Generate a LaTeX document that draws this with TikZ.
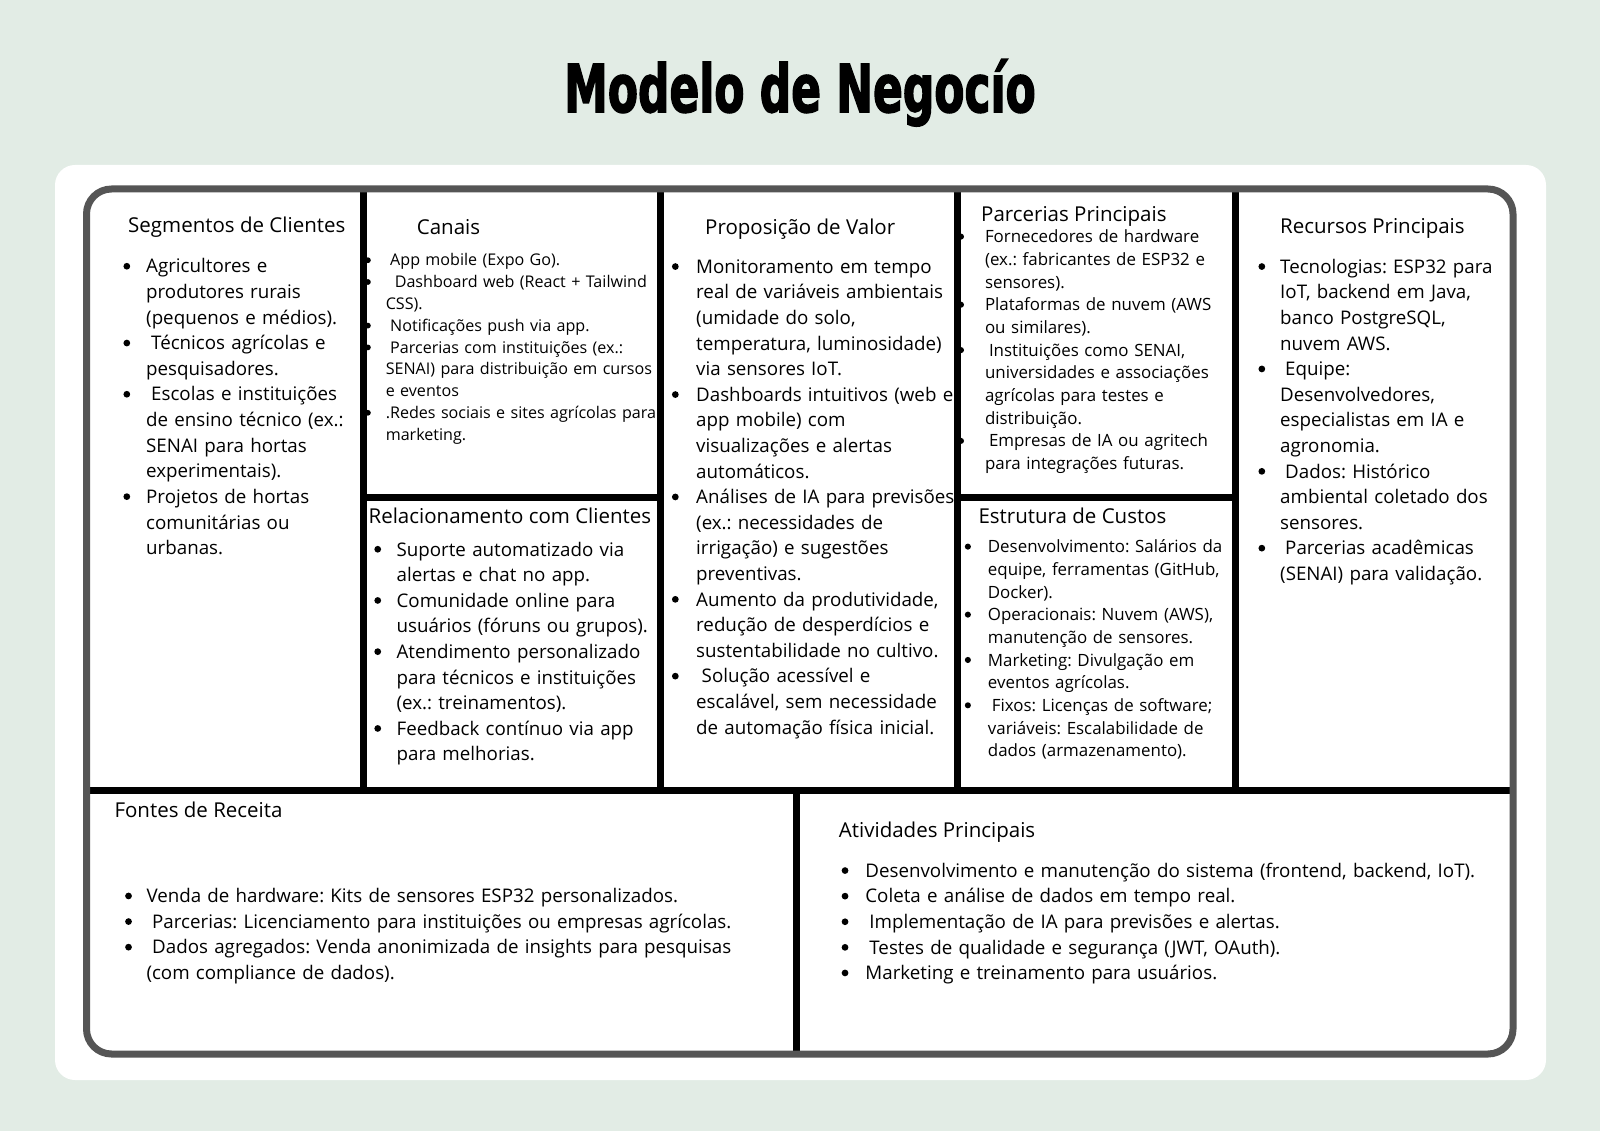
\documentclass[tikz,border=0pt]{standalone}
\usepackage{graphicx}
\usepackage{fontspec}
\setmainfont{Open Sans}
\newfontfamily\titlefont{DejaVu Sans Condensed}[BoldFeatures={FakeBold=2.5}]
\definecolor{bgmint}{HTML}{E2ECE5}
\definecolor{framegrey}{HTML}{555555}
\newcommand{\bul}[1]{\leavevmode\llap{\tikz[baseline=0pt]\fill (0pt,0.36em) circle (0.18em);\hspace{#1pt}}}
\frenchspacing
\begin{document}
\begin{tikzpicture}[x=1pt,y=-1pt,
  divider/.style={draw=black,line width=7pt},
  head/.style={anchor=base west,inner sep=0pt,font=\fontsize{20.5}{24}\selectfont},
  bigtxt/.style={anchor=base west,inner sep=0pt,align=left,text width=#1,font=\fontsize{18.75}{25.6}\selectfont},
  smalltxt/.style n args={3}{anchor=base west,inner sep=0pt,align=left,text width=#3,font=\fontsize{#1}{#2}\selectfont}]
\useasboundingbox (0,0) rectangle (1600,1131);
\fill[bgmint] (0,0) rectangle (1600,1131);
\fill[white,rounded corners=20pt] (55,165) rectangle (1546,1080);
\node (title) at (800,112) [anchor=base,inner sep=0pt] {\titlefont\bfseries\fontsize{66}{70}\selectfont\scalebox{0.74}[1]{Modelo de Negocío}};
% headers
\node (segH) at (128,233) [head] {Segmentos de Clientes};
\node (canH) at (416.7,234.3) [head] {Canais};
\node (propH) at (705,234.3) [head] {Proposição de Valor};
\node (parH) at (981,221.7) [head] {Parcerias Principais};
\node (recH) at (1280,233.3) [head] {Recursos Principais};
\node (relH) at (368.4,523.3) [head] {Relacionamento com Clientes};
\node (custH) at (978.3,523.3) [head] {Estrutura de Custos};
\node (fonH) at (114.3,817.7) [head] {Fontes de Receita};
\node (ativH) at (838.7,837.7) [head] {Atividades Principais};
% lists
\node (seg) at (146,273) [bigtxt=205pt] {\bul{16}Agricultores e\\
produtores rurais\\
(pequenos e médios).\\
\bul{16}\hspace*{5pt}Técnicos agrícolas e\\
pesquisadores.\\
\bul{16}\hspace*{5pt}Escolas e instituições\\
de ensino técnico (ex.:\\
SENAI para hortas\\
experimentais).\\
\bul{16}Projetos de hortas\\
comunitárias ou\\
urbanas.};
\node (can) at (385.6,266) [smalltxt={16.1}{21.8}{272pt}] {\bul{15}\hspace*{4.4pt}App mobile (Expo Go).\\
\bul{15}\hspace*{9pt}Dashboard web (React + Tailwind\\
CSS).\\
\bul{15}\hspace*{4.4pt}Notificações push via app.\\
\bul{15}\hspace*{4.4pt}Parcerias com instituições (ex.:\\
SENAI) para distribuição em cursos\\
e eventos\\
\bul{15}.Redes sociais e sites agrícolas para\\
marketing.};
\node (prop) at (696,273.3) [bigtxt=260pt] {\bul{17.5}Monitoramento em tempo\\
real de variáveis ambientais\\
(umidade do solo,\\
temperatura, luminosidade)\\
via sensores IoT.\\
\bul{17.5}Dashboards intuitivos (web e\\
app mobile) com\\
visualizações e alertas\\
automáticos.\\
\bul{17.5}Análises de IA para previsões\\
(ex.: necessidades de\\
irrigação) e sugestões\\
preventivas.\\
\bul{17.5}Aumento da produtividade,\\
redução de desperdícios e\\
sustentabilidade no cultivo.\\
\bul{17.5}\hspace*{5.5pt}Solução acessível e\\
escalável, sem necessidade\\
de automação física inicial.};
\node (par) at (984.8,242.7) [smalltxt={16.9}{22.7}{235pt}] {\bul{21}Fornecedores de hardware\\
(ex.: fabricantes de ESP32 e\\
sensores).\\
\bul{21}Plataformas de nuvem (AWS\\
ou similares).\\
\bul{21}\hspace*{4pt}Instituições como SENAI,\\
universidades e associações\\
agrícolas para testes e\\
distribuição.\\
\bul{21}\hspace*{4pt}Empresas de IA ou agritech\\
para integrações futuras.};
\node (rec) at (1280,273.3) [bigtxt=220pt] {\bul{15}Tecnologias: ESP32 para\\
IoT, backend em Java,\\
banco PostgreSQL,\\
nuvem AWS.\\
\bul{15}\hspace*{5pt}Equipe:\\
Desenvolvedores,\\
especialistas em IA e\\
agronomia.\\
\bul{15}\hspace*{5pt}Dados: Histórico\\
ambiental coletado dos\\
sensores.\\
\bul{15}\hspace*{5pt}Parcerias acadêmicas\\
(SENAI) para validação.};
\node (rel) at (396.4,556) [bigtxt=258pt] {\bul{15.5}Suporte automatizado via\\
alertas e chat no app.\\
\bul{15.5}Comunidade online para\\
usuários (fóruns ou grupos).\\
\bul{15.5}Atendimento personalizado\\
para técnicos e instituições\\
(ex.: treinamentos).\\
\bul{15.5}Feedback contínuo via app\\
para melhorias.};
\node (cust) at (987.7,552.7) [smalltxt={16.9}{22.67}{240pt}] {\bul{17}Desenvolvimento: Salários da\\
equipe, ferramentas (GitHub,\\
Docker).\\
\bul{17}Operacionais: Nuvem (AWS),\\
manutenção de sensores.\\
\bul{17}Marketing: Divulgação em\\
eventos agrícolas.\\
\bul{17}\hspace*{4pt}Fixos: Licenças de software;\\
variáveis: Escalabilidade de\\
dados (armazenamento).};
\node (fon) at (146.3,902.7) [bigtxt=600pt] {\bul{14.6}Venda de hardware: Kits de sensores ESP32 personalizados.\\
\bul{14.6}\hspace*{5.7pt}Parcerias: Licenciamento para instituições ou empresas agrícolas.\\
\bul{14.6}\hspace*{5.7pt}Dados agregados: Venda anonimizada de insights para pesquisas\\
(com compliance de dados).};
\node (ativ) at (865.2,877.3) [bigtxt=625pt] {\bul{17}Desenvolvimento e manutenção do sistema (frontend, backend, IoT).\\
\bul{17}Coleta e análise de dados em tempo real.\\
\bul{17}\hspace*{4pt}Implementação de IA para previsões e alertas.\\
\bul{17}\hspace*{4pt}Testes de qualidade e segurança (JWT, OAuth).\\
\bul{17}Marketing e treinamento para usuários.};
% grid
\draw[divider] (363,189) -- (363,790);
\draw[divider] (660,189) -- (660,790);
\draw[divider] (957,189) -- (957,790);
\draw[divider] (1235,189) -- (1235,790);
\draw[divider] (363,497) -- (660,497);
\draw[divider] (957,497) -- (1235,497);
\draw[divider] (87,790) -- (1513,790);
\draw[divider] (796,790) -- (796,1054);
\draw[framegrey,line width=7pt,rounded corners=25pt] (86.5,189) rectangle (1513,1054);
\end{tikzpicture}
\end{document}
